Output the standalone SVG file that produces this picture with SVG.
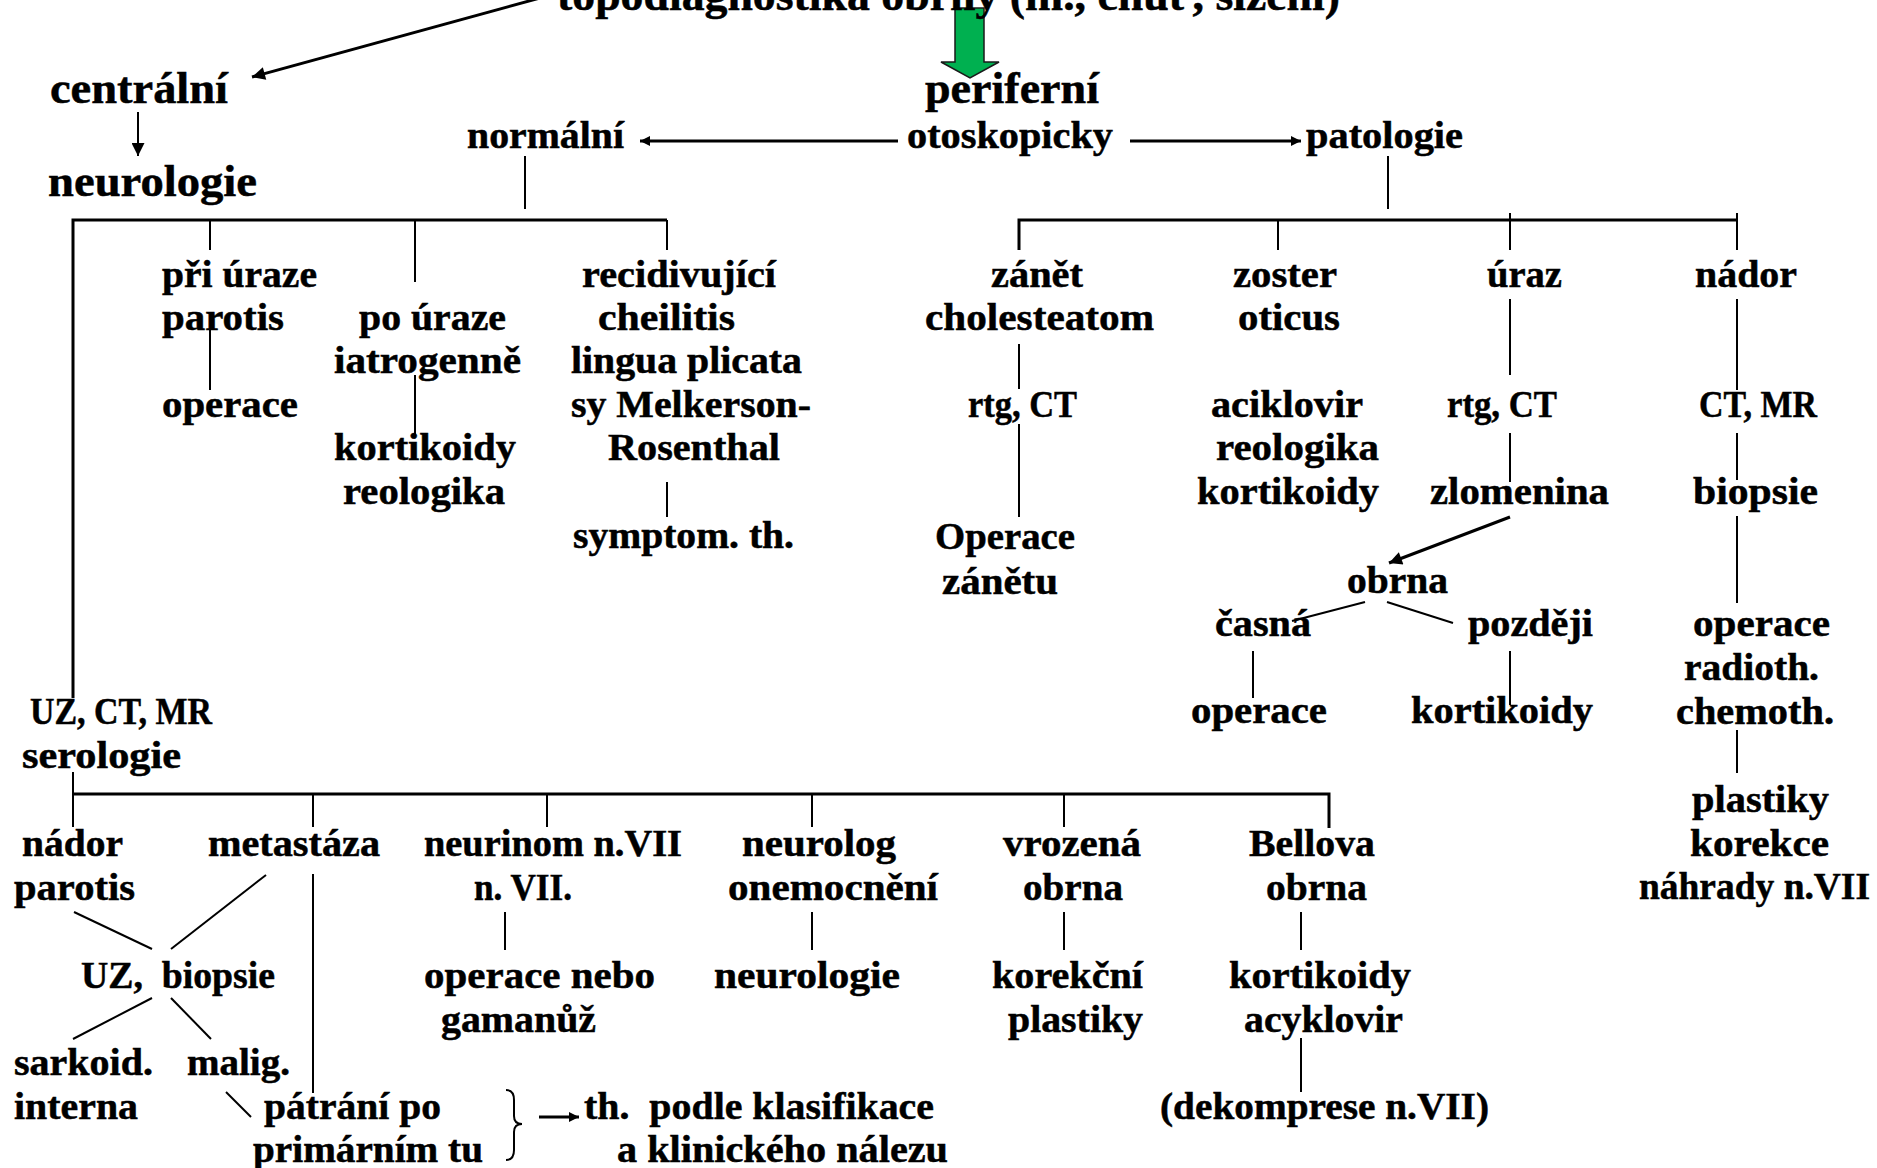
<svg xmlns="http://www.w3.org/2000/svg" width="1877" height="1168" viewBox="0 0 1877 1168">
<style>
text{font-family:"Liberation Serif","Times New Roman",serif;font-weight:bold;font-size:38px;text-anchor:middle;fill:#000;stroke:#000;stroke-width:0.5px}
.h{font-size:44px}
.c line,.c path,.c polyline{stroke:#000;fill:none;stroke-width:2}
.c .b{stroke-width:3}
</style>
<defs>
<marker id="ah" viewBox="0 0 10 10" refX="10" refY="5" markerUnits="userSpaceOnUse" markerWidth="16" markerHeight="13" orient="auto"><path d="M0,0 L10,5 L0,10 z" fill="#000"/></marker>
<marker id="as" viewBox="0 0 10 10" refX="10" refY="5" markerUnits="userSpaceOnUse" markerWidth="11" markerHeight="10" orient="auto"><path d="M0,0 L10,5 L0,10 z" fill="#000"/></marker>
</defs>
<rect width="1877" height="1168" fill="#fff"/>

<g class="c" id="connectors">
<line class="b" x1="540" y1="-2" x2="252" y2="77" marker-end="url(#ah)"/>
<line x1="138" y1="112" x2="138" y2="156" marker-end="url(#ah)"/>
<line class="b" x1="898" y1="141" x2="640" y2="141" marker-end="url(#as)"/>
<line class="b" x1="1130" y1="141" x2="1301" y2="141" marker-end="url(#as)"/>
<line x1="525" y1="156" x2="525" y2="209"/>
<line x1="1388" y1="156" x2="1388" y2="209"/>
<polyline class="b" points="73,698 73,220 667,220"/>
<line x1="210" y1="220" x2="210" y2="250"/>
<line x1="415" y1="220" x2="415" y2="282"/>
<line x1="667" y1="220" x2="667" y2="250"/>
<line x1="210" y1="330" x2="210" y2="390"/>
<line x1="415" y1="375" x2="415" y2="436"/>
<line x1="667" y1="482" x2="667" y2="517"/>
<polyline class="b" points="1019,250 1019,220 1737,220"/>
<line x1="1278" y1="220" x2="1278" y2="250"/>
<line x1="1510" y1="213" x2="1510" y2="250"/>
<line x1="1737" y1="213" x2="1737" y2="250"/>
<line x1="1019" y1="344" x2="1019" y2="389"/>
<line x1="1019" y1="424" x2="1019" y2="517"/>
<line x1="1510" y1="299" x2="1510" y2="375"/>
<line x1="1510" y1="433" x2="1510" y2="482"/>
<line class="b" x1="1510" y1="517" x2="1389" y2="563" marker-end="url(#ah)"/>
<line x1="1365" y1="602" x2="1292" y2="621"/>
<line x1="1387" y1="602" x2="1453" y2="623"/>
<line x1="1253" y1="651" x2="1253" y2="698"/>
<line x1="1510" y1="651" x2="1510" y2="705"/>
<line x1="1737" y1="299" x2="1737" y2="390"/>
<line x1="1737" y1="433" x2="1737" y2="480"/>
<line x1="1737" y1="516" x2="1737" y2="603"/>
<line x1="1737" y1="730" x2="1737" y2="773"/>
<line x1="73" y1="772" x2="73" y2="794"/>
<polyline class="b" points="73,794 1329,794 1329,828"/>
<line x1="73" y1="794" x2="73" y2="827"/>
<line x1="313" y1="794" x2="313" y2="827"/>
<line x1="547" y1="794" x2="547" y2="827"/>
<line x1="812" y1="794" x2="812" y2="827"/>
<line x1="1064" y1="794" x2="1064" y2="827"/>
<line x1="74" y1="912" x2="152" y2="949"/>
<line x1="266" y1="875" x2="171" y2="949"/>
<line x1="313" y1="874" x2="313" y2="1093"/>
<line x1="152" y1="998" x2="73" y2="1039"/>
<line x1="171" y1="998" x2="211" y2="1039"/>
<line x1="226" y1="1092" x2="251" y2="1117"/>
<line x1="505" y1="912" x2="505" y2="950"/>
<line x1="812" y1="912" x2="812" y2="950"/>
<line x1="1064" y1="912" x2="1064" y2="950"/>
<line x1="1301" y1="912" x2="1301" y2="950"/>
<line x1="1301" y1="1038" x2="1301" y2="1092"/>
<path d="M506,1090 Q514,1090 514,1100 L514,1116 Q514,1124 522,1124 Q514,1124 514,1132 L514,1150 Q514,1160 506,1160" stroke-width="1.5"/>
<line class="b" x1="539" y1="1117" x2="579" y2="1117" marker-end="url(#as)"/>
</g>

<g id="green-arrow"><path d="M955,8 H984 V62 H999 L970,78 L941,62 H955 Z" fill="#00B050" stroke="#1a1a1a" stroke-width="1.5"/></g>

<g id="title"><text class="h" x="948.5" y="10" textLength="783" lengthAdjust="spacingAndGlyphs">topodiagnostika obrny (m., chuť, slzení)</text></g>
<g id="centralni"><text class="h" x="139" y="103" textLength="178" lengthAdjust="spacingAndGlyphs">centrální</text></g>
<g id="neurologie-top"><text class="h" x="152.5" y="196" textLength="209" lengthAdjust="spacingAndGlyphs">neurologie</text></g>
<g id="periferni"><text class="h" x="1012" y="103" textLength="174" lengthAdjust="spacingAndGlyphs">periferní</text></g>
<g id="normalni"><text x="545.5" y="148" textLength="157" lengthAdjust="spacingAndGlyphs">normální</text></g>
<g id="otoskopicky"><text x="1010" y="148" textLength="206" lengthAdjust="spacingAndGlyphs">otoskopicky</text></g>
<g id="patologie"><text x="1384.5" y="148" textLength="157" lengthAdjust="spacingAndGlyphs">patologie</text></g>

<g id="pri-uraze"><text x="239.5" y="287" textLength="155" lengthAdjust="spacingAndGlyphs">při úraze</text><text x="223" y="330" textLength="122" lengthAdjust="spacingAndGlyphs">parotis</text></g>
<g id="operace-1"><text x="230" y="417" textLength="136" lengthAdjust="spacingAndGlyphs">operace</text></g>
<g id="po-uraze"><text x="432.5" y="330" textLength="147" lengthAdjust="spacingAndGlyphs">po úraze</text><text x="427.5" y="373" textLength="187" lengthAdjust="spacingAndGlyphs">iatrogenně</text></g>
<g id="kortikoidy-1"><text x="425" y="460" textLength="182" lengthAdjust="spacingAndGlyphs">kortikoidy</text><text x="424" y="504" textLength="162" lengthAdjust="spacingAndGlyphs">reologika</text></g>
<g id="recidivujici"><text x="679" y="287" textLength="194" lengthAdjust="spacingAndGlyphs">recidivující</text><text x="666.5" y="330" textLength="137" lengthAdjust="spacingAndGlyphs">cheilitis</text><text x="686.5" y="373" textLength="231" lengthAdjust="spacingAndGlyphs">lingua plicata</text><text x="691" y="417" textLength="240" lengthAdjust="spacingAndGlyphs">sy Melkerson-</text><text x="694" y="460" textLength="172" lengthAdjust="spacingAndGlyphs">Rosenthal</text></g>
<g id="symptom"><text x="683.5" y="548" textLength="221" lengthAdjust="spacingAndGlyphs">symptom. th.</text></g>

<g id="zanet"><text x="1037" y="287" textLength="92" lengthAdjust="spacingAndGlyphs">zánět</text><text x="1039.5" y="330" textLength="229" lengthAdjust="spacingAndGlyphs">cholesteatom</text></g>
<g id="rtg-1"><text x="1022.5" y="417" textLength="109" lengthAdjust="spacingAndGlyphs">rtg, CT</text></g>
<g id="operace-zanetu"><text x="1005" y="549" textLength="140" lengthAdjust="spacingAndGlyphs">Operace</text><text x="1000" y="594" textLength="116" lengthAdjust="spacingAndGlyphs">zánětu</text></g>
<g id="zoster"><text x="1285" y="287" textLength="104" lengthAdjust="spacingAndGlyphs">zoster</text><text x="1289" y="330" textLength="102" lengthAdjust="spacingAndGlyphs">oticus</text></g>
<g id="aciklovir"><text x="1287" y="417" textLength="152" lengthAdjust="spacingAndGlyphs">aciklovir</text><text x="1297.5" y="460" textLength="163" lengthAdjust="spacingAndGlyphs">reologika</text><text x="1288" y="504" textLength="182" lengthAdjust="spacingAndGlyphs">kortikoidy</text></g>
<g id="uraz"><text x="1524.5" y="287" textLength="75" lengthAdjust="spacingAndGlyphs">úraz</text></g>
<g id="rtg-2"><text x="1502" y="417" textLength="110" lengthAdjust="spacingAndGlyphs">rtg, CT</text></g>
<g id="zlomenina"><text x="1519.5" y="504" textLength="179" lengthAdjust="spacingAndGlyphs">zlomenina</text></g>
<g id="obrna-1"><text x="1397.5" y="593" textLength="101" lengthAdjust="spacingAndGlyphs">obrna</text></g>
<g id="casna"><text x="1263" y="636" textLength="96" lengthAdjust="spacingAndGlyphs">časná</text></g>
<g id="pozdeji"><text x="1530.5" y="636" textLength="125" lengthAdjust="spacingAndGlyphs">později</text></g>
<g id="operace-2"><text x="1259" y="723" textLength="136" lengthAdjust="spacingAndGlyphs">operace</text></g>
<g id="kortikoidy-3"><text x="1502" y="723" textLength="182" lengthAdjust="spacingAndGlyphs">kortikoidy</text></g>
<g id="nador-1"><text x="1746" y="287" textLength="102" lengthAdjust="spacingAndGlyphs">nádor</text></g>
<g id="ct-mr"><text x="1758" y="417" textLength="118" lengthAdjust="spacingAndGlyphs">CT, MR</text></g>
<g id="biopsie-1"><text x="1755.5" y="504" textLength="125" lengthAdjust="spacingAndGlyphs">biopsie</text></g>
<g id="operace-3"><text x="1761.5" y="636" textLength="137" lengthAdjust="spacingAndGlyphs">operace</text><text x="1751.5" y="680" textLength="135" lengthAdjust="spacingAndGlyphs">radioth.</text><text x="1755" y="724" textLength="158" lengthAdjust="spacingAndGlyphs">chemoth.</text></g>
<g id="plastiky-1"><text x="1760.5" y="812" textLength="137" lengthAdjust="spacingAndGlyphs">plastiky</text><text x="1759.5" y="856" textLength="139" lengthAdjust="spacingAndGlyphs">korekce</text><text x="1754.5" y="899" textLength="231" lengthAdjust="spacingAndGlyphs">náhrady n.VII</text></g>

<g id="uz-ct-mr"><text x="121" y="724" textLength="182" lengthAdjust="spacingAndGlyphs">UZ, CT, MR</text><text x="101.5" y="768" textLength="159" lengthAdjust="spacingAndGlyphs">serologie</text></g>
<g id="nador-2"><text x="72.5" y="856" textLength="101" lengthAdjust="spacingAndGlyphs">nádor</text><text x="74.5" y="900" textLength="121" lengthAdjust="spacingAndGlyphs">parotis</text></g>
<g id="metastaza"><text x="294" y="856" textLength="172" lengthAdjust="spacingAndGlyphs">metastáza</text></g>
<g id="uz-biopsie"><text x="178" y="988" textLength="194" lengthAdjust="spacingAndGlyphs" xml:space="preserve">UZ,  biopsie</text></g>
<g id="sarkoid"><text x="83.5" y="1075" textLength="139" lengthAdjust="spacingAndGlyphs">sarkoid.</text><text x="76" y="1119" textLength="124" lengthAdjust="spacingAndGlyphs">interna</text></g>
<g id="malig"><text x="238.5" y="1075" textLength="103" lengthAdjust="spacingAndGlyphs">malig.</text></g>
<g id="patrani"><text x="352.5" y="1119" textLength="177" lengthAdjust="spacingAndGlyphs">pátrání po</text><text x="368" y="1162" textLength="230" lengthAdjust="spacingAndGlyphs">primárním tu</text></g>
<g id="th-podle"><text x="759" y="1119" textLength="350" lengthAdjust="spacingAndGlyphs" xml:space="preserve">th.  podle klasifikace</text><text x="782.5" y="1162" textLength="331" lengthAdjust="spacingAndGlyphs">a klinického nálezu</text></g>
<g id="neurinom"><text x="553" y="856" textLength="258" lengthAdjust="spacingAndGlyphs">neurinom n.VII</text><text x="523" y="900" textLength="98" lengthAdjust="spacingAndGlyphs">n. VII.</text></g>
<g id="operace-nebo"><text x="539.5" y="988" textLength="231" lengthAdjust="spacingAndGlyphs">operace nebo</text><text x="518.5" y="1032" textLength="155" lengthAdjust="spacingAndGlyphs">gamanůž</text></g>
<g id="neurolog"><text x="819" y="856" textLength="154" lengthAdjust="spacingAndGlyphs">neurolog</text><text x="833" y="900" textLength="210" lengthAdjust="spacingAndGlyphs">onemocnění</text></g>
<g id="neurologie-2"><text x="807" y="988" textLength="186" lengthAdjust="spacingAndGlyphs">neurologie</text></g>
<g id="vrozena"><text x="1072" y="856" textLength="138" lengthAdjust="spacingAndGlyphs">vrozená</text><text x="1073" y="900" textLength="100" lengthAdjust="spacingAndGlyphs">obrna</text></g>
<g id="korekcni"><text x="1067.5" y="988" textLength="151" lengthAdjust="spacingAndGlyphs">korekční</text><text x="1075.5" y="1032" textLength="135" lengthAdjust="spacingAndGlyphs">plastiky</text></g>
<g id="bellova"><text x="1312" y="856" textLength="126" lengthAdjust="spacingAndGlyphs">Bellova</text><text x="1316.5" y="900" textLength="101" lengthAdjust="spacingAndGlyphs">obrna</text></g>
<g id="kortikoidy-4"><text x="1320" y="988" textLength="182" lengthAdjust="spacingAndGlyphs">kortikoidy</text><text x="1323.5" y="1032" textLength="159" lengthAdjust="spacingAndGlyphs">acyklovir</text></g>
<g id="dekomprese"><text x="1324.5" y="1119" textLength="329" lengthAdjust="spacingAndGlyphs">(dekomprese n.VII)</text></g>
</svg>
